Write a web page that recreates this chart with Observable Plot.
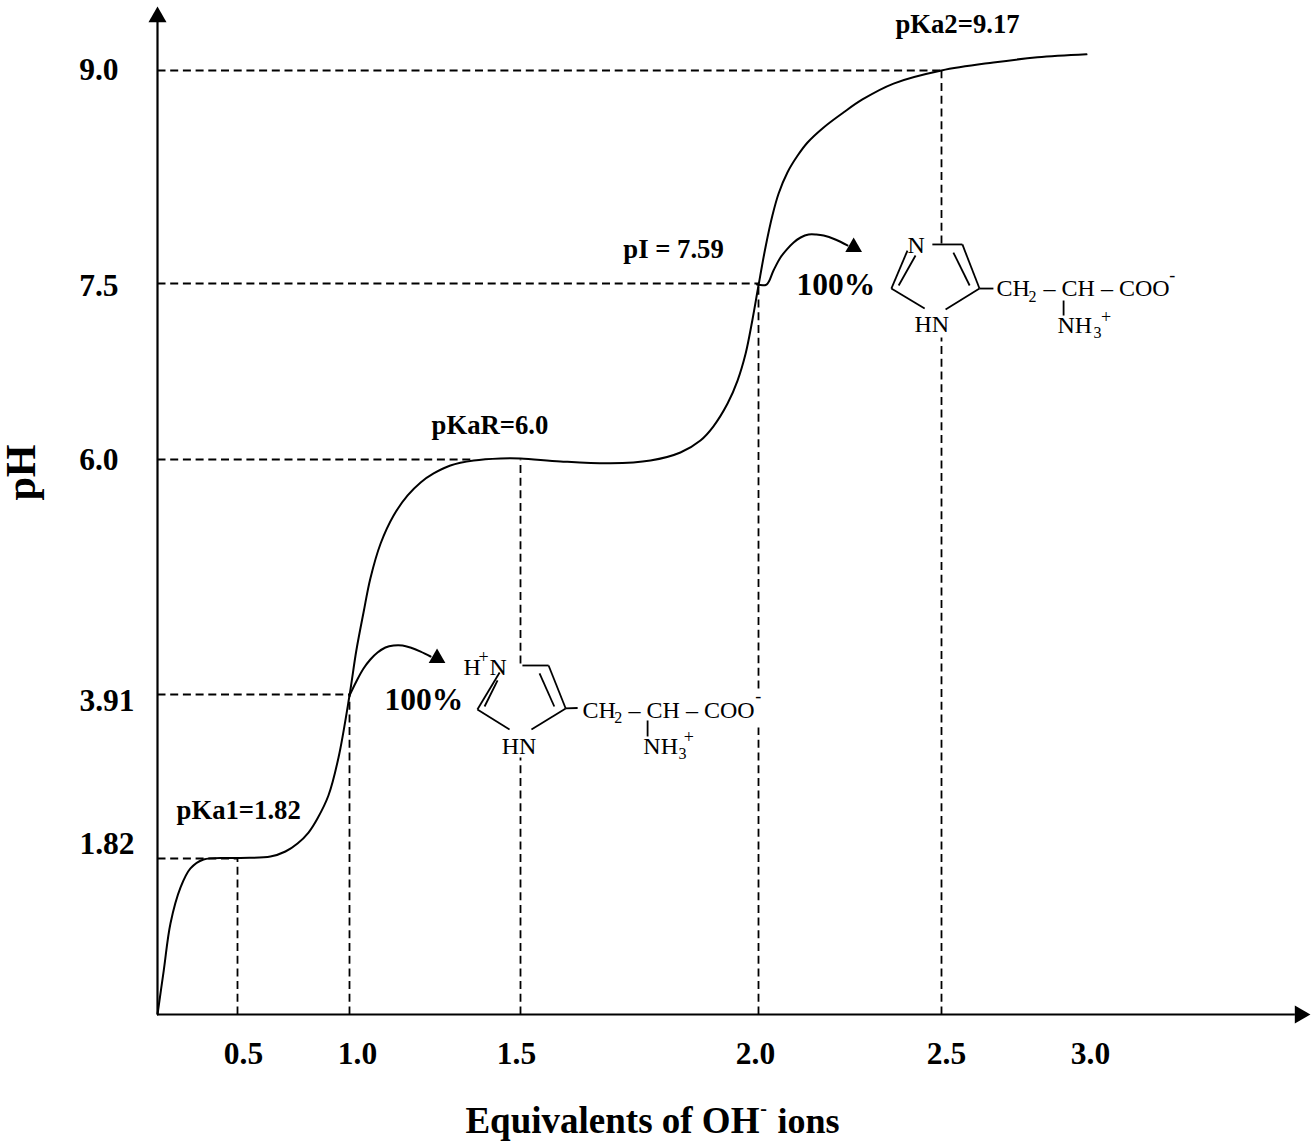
<!DOCTYPE html>
<html>
<head>
<meta charset="utf-8">
<script src="https://cdn.jsdelivr.net/npm/d3@7"></script>
<script src="https://cdn.jsdelivr.net/npm/@observablehq/plot@0.6"></script>
<style>html,body{margin:0;background:#fff}svg{display:block}</style>
</head>
<body>
<div id="chart"></div>
<script>
// Titration curve (equivalents of OH-, pH)
const curveEq = [0,.039,.081,.144,.206,.2875,.504,.647,.714,.768,.817,.857,.906,.951,1,1.02,1.041,1.061,1.091,1.129,1.17,1.208,1.246,1.295,1.363,1.442,1.5,1.584,1.689,1.773,1.836,1.878,1.905,1.935,1.956,1.973,1.987,2,2.019,2.038,2.055,2.079,2.107,2.134,2.178,2.232,2.284,2.369,2.5,2.679,2.831,3];
const curvePH = [0,.513,1.062,1.482,1.704,1.809,1.826,1.845,1.909,2.011,2.151,2.33,2.623,3.107,3.897,4.301,4.639,4.942,5.253,5.502,5.68,5.796,5.876,5.947,5.991,6.009,6.009,5.983,5.966,5.991,6.06,6.162,6.281,6.477,6.673,6.903,7.185,7.483,7.754,7.979,8.134,8.282,8.401,8.493,8.599,8.704,8.796,8.908,9,9.056,9.092,9.113];

// Ticks
const xTicks = [.5,1,1.5,2,2.5,3];
const xTickShift = [6,8,-4,-3,5,4];
const yTicks = [1.82,3.91,6,7.5,9];
const yTickFormat = [".2f",".2f",".1f",".1f",".1f"];
const yTickPad = [23,23,39,39,39];
const yTickShift = [-15,6,0,2,-1];

// Dashed guides [x1,y1,x2,y2]
const guides = [
  [0,1.82,.5,1.82],[0,3.91,1,3.91],[0,6,1.36,6],[0,7.5,2,7.5],[0,9,2.5,9],
  [.5,0,.5,1.82],[1,0,1,3.91],
  [1.5,0,1.5,3.107],[1.5,4.186,1.5,6],
  [2,0,2,3.489],[2,3.963,2,7.5],
  [2.5,0,2.5,7.04],[2.5,7.782,2.5,9]
];

// Curved arrows
const arrow1Eq = [1,1.02,1.041,1.061,1.082,1.105,1.129,1.155,1.178,1.208,1.237];
const arrow1PH = [3.897,4.026,4.141,4.221,4.283,4.328,4.346,4.346,4.328,4.292,4.248];
const arrow2Eq = [1.997,2.022,2.041,2.06,2.077,2.096,2.115,2.137,2.158,2.178,2.21,2.243];
const arrow2PH = [7.491,7.491,7.592,7.683,7.739,7.789,7.824,7.845,7.845,7.838,7.81,7.768];
const arrowHeads = [[1.256,4.233],[2.26,7.756]];

// Bonds of the two imidazole structures [x1,y1,x2,y2]
const bonds = [
  [1.504,4.168,1.559,4.168],[1.559,4.168,1.595,3.732],[1.540,4.097,1.571,3.757],
  [1.595,3.732,1.620,3.738],[1.595,3.732,1.523,3.464],[1.374,3.719,1.468,3.464],
  [1.374,3.719,1.439,4.106],[1.395,3.757,1.433,4.035],[1.767,3.579,1.767,3.375],
  [2.475,7.775,2.572,7.775],[2.572,7.775,2.631,7.457],[2.541,7.718,2.597,7.483],
  [2.631,7.457,2.679,7.457],[2.631,7.457,2.514,7.279],[2.363,7.457,2.454,7.287],
  [2.363,7.457,2.407,7.732],[2.383,7.483,2.429,7.697],[2.921,7.355,2.921,7.227]
];

// Text labels
const chemLabels = [
  ["H",1.333,4.150],["N",1.409,4.150],["HN",1.445,3.247],["CH",1.630,3.706],["– CH – COO",1.727,3.706],["NH",1.758,3.247],
  ["N",2.407,7.768],["HN",2.426,7.151],["CH",2.690,7.457],["– CH – COO",2.852,7.457],["NH",2.9,7.142]
];
const chemDigits = [["2",1.697,3.617],["3",1.832,3.158],["2",2.800,7.389],["3",3.024,7.083]];
const chemSigns = [["+",1.377,4.239],["-",1.993,3.892],["+",1.843,3.362],["-",3.285,7.556],["+",3.05,7.21]];
const pkaLabels = [
  ["pKa1=1.82",.119,2.432],["pKaR=6.0",1.24,6.29],["pI = 7.59",1.716,7.739],["pKa2=9.17",2.374,9.324]
];
const percentLabels = [["100%",1.102,3.846],["100%",2.104,7.492]];

// The reference's axes are unevenly spaced: tick value -> place along the axis
const xPlace = d3.scaleLinear().domain([0,.5,1,1.5,2,2.5,3,3.779]).range([157,237,349,520,758,941,1086,1312]);
const yPlace = d3.scaleLinear().domain([0,1.82,3.91,6,7.5,9,9.49]).range([1014,858,694,459,283,70,0]);

const serif = "'Liberation Serif','Times New Roman',serif";
const xy = {x: d => d[1], y: d => d[2], text: d => d[0], textAnchor: "start", fill: "black"};
const pts = (xs, ys) => xs.map((x, i) => [x, ys[i]]);

const plot = Plot.plot({
  width: 1312,
  height: 1143,
  marginLeft: 157,
  marginBottom: 129,
  marginTop: 0,
  marginRight: 0,
  style: {fontFamily: serif, background: "white", color: "black", overflow: "visible"},
  x: {type: "linear", transform: xPlace, domain: [0,1312], range: [0,1312]},
  y: {type: "linear", transform: yPlace, domain: [0,1143], range: [0,1143]},
  marks: [
    Plot.link(guides, {x1: d => d[0], y1: d => d[1], x2: d => d[2], y2: d => d[3], stroke: "black", strokeWidth: 1.8, strokeDasharray: "8,4.7"}),
    Plot.ruleX([0], {y1: 0, y2: 9.375, stroke: "black", strokeWidth: 2.2}),
    Plot.ruleY([0], {x1: 0, x2: 3.72, stroke: "black", strokeWidth: 2.2}),
    Plot.dot([[0,9.375]], {x: d => d[0], y: d => d[1], symbol: "triangle", r: 6.7, fill: "black", stroke: null}),
    Plot.dot([[3.736,0]], {x: d => d[0], y: d => d[1], symbol: "triangle", rotate: 90, r: 6.7, fill: "black", stroke: null}),
    Plot.line(pts(curveEq, curvePH), {x: d => d[0], y: d => d[1], curve: "catmull-rom", stroke: "black", strokeWidth: 2}),
    Plot.line(pts(arrow1Eq, arrow1PH), {x: d => d[0], y: d => d[1], curve: "catmull-rom", stroke: "black", strokeWidth: 2}),
    Plot.line(pts(arrow2Eq, arrow2PH), {x: d => d[0], y: d => d[1], curve: "catmull-rom", stroke: "black", strokeWidth: 2}),
    Plot.dot(arrowHeads, {x: d => d[0], y: d => d[1], symbol: "triangle", r: 6.2, fill: "black", stroke: null}),
    Plot.link(bonds, {x1: d => d[0], y1: d => d[1], x2: d => d[2], y2: d => d[3], stroke: "black", strokeWidth: 1.8}),
    ...xTicks.map((t, i) => Plot.axisX([t], {anchor: "bottom", tickSize: 0, tickPadding: 27, dx: xTickShift[i], tickFormat: d3.format(".1f"), label: null, fontSize: 31.5, fontWeight: "bold", fill: "black"})),
    ...yTicks.map((t, i) => Plot.axisY([t], {anchor: "left", tickSize: 0, tickPadding: yTickPad[i], dy: yTickShift[i], tickFormat: d3.format(yTickFormat[i]), label: null, fontSize: 31.5, fontWeight: "bold", fill: "black"})),
    Plot.text(chemLabels, {...xy, fontSize: 24}),
    Plot.text(chemDigits, {...xy, fontSize: 16}),
    Plot.text(chemSigns, {...xy, fontSize: 18}),
    Plot.text(pkaLabels, {...xy, fontSize: 26.7, fontWeight: "bold"}),
    Plot.text(percentLabels, {...xy, fontSize: 31.5, fontWeight: "bold"}),
    Plot.text([["Equivalents of OH",1.339,-1.248]], {...xy, fontSize: 37, fontWeight: "bold"}),
    Plot.text([["ions",2.052,-1.248]], {...xy, fontSize: 36, fontWeight: "bold"}),
    Plot.text([["-",2.014,-1.097]], {...xy, textAnchor: "middle", fontSize: 20, fontWeight: "bold"}),
    Plot.text([["pH",-.85,5.884]], {...xy, textAnchor: "middle", rotate: -90, fontSize: 42, fontWeight: "bold"})
  ]
});
document.getElementById("chart").appendChild(plot);
</script>
</body>
</html>
